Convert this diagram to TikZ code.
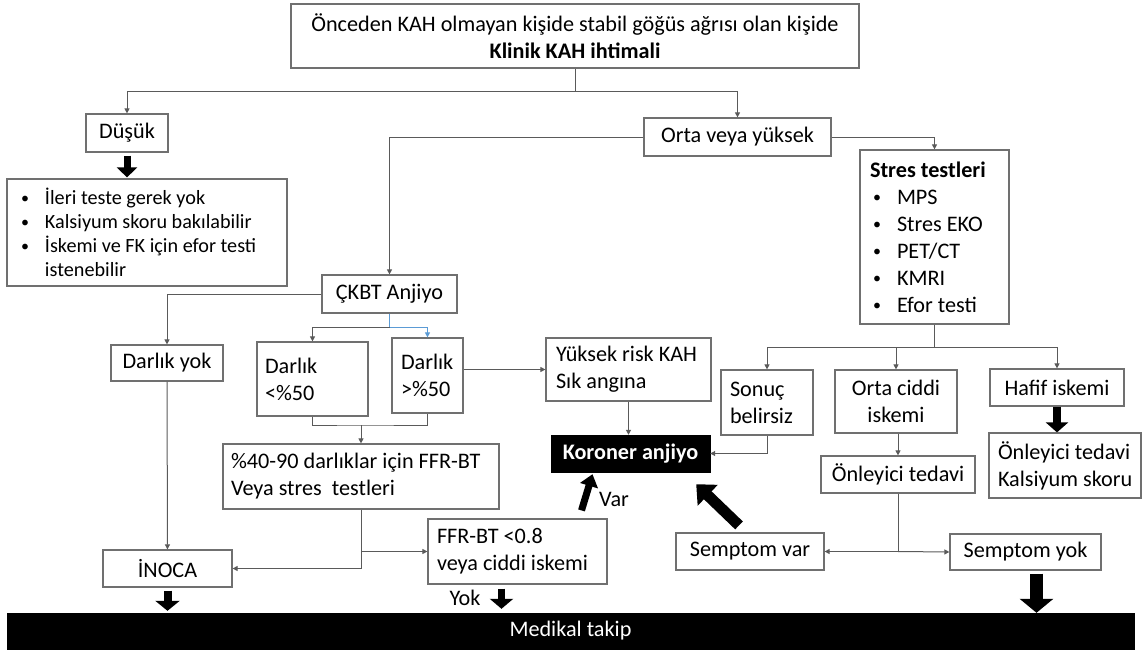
\documentclass[tikz,border=0pt]{standalone}
\usepackage{fontspec}
\setmainfont{Carlito}
\usetikzlibrary{arrows.meta,calc,positioning}
\definecolor{linegray}{HTML}{5A5A5A}
\definecolor{boxgray}{HTML}{707070}
\definecolor{linkblue}{HTML}{5B9BD5}
\newcommand{\itm}[1]{\makebox[24pt][l]{\raisebox{1.5pt}{\fontsize{16}{16}\selectfont\textbullet}}#1}
\tikzset{
  box/.style={draw=boxgray,line width=1.2pt,fill=white,rectangle,inner sep=0pt,align=flush center,text=black},
  lbox/.style={box,align=flush left},
  darkbox/.style={draw=black,fill=black,rectangle,inner sep=0pt,text=white},
  link/.style={draw=linegray,line width=1pt},
  conn/.style={link,-{Triangle[length=5pt,width=5pt]}},
  bigarrow/.style={draw=black,line width=7pt,-{Triangle[length=10pt,width=20pt]}}
}
\begin{document}
\begin{tikzpicture}[x=1pt,y=-1pt,font=\fontsize{22.2}{27}\selectfont]
  \useasboundingbox (0,0) rectangle (1144,653);
  \node[box,minimum width=568pt,minimum height=64pt] (kah) at (575,36)
    {Önceden KAH olmayan kişide stabil göğüs ağrısı olan kişide\\\textbf{Klinik KAH ihtimali}};
  \node[box,minimum width=82pt,minimum height=38pt] (dusuk) at (127,133) {Düşük};
  \node[lbox,inner xsep=14pt,text width=252pt,minimum height=107pt,
    font=\fontsize{20.2}{24}\selectfont] (ileri) at (147,232.5)
    {\itm{İleri teste gerek yok}\\\itm{Kalsiyum skoru bakılabilir}\\
     \itm{İskemi ve FK için efor testi}\\\hspace*{24pt}istenebilir};
  \node[box,minimum width=187pt,minimum height=38pt] (orta) at (737.5,137) {Orta veya yüksek};
  \node[lbox,inner xsep=10pt,text width=129pt,minimum height=174pt] (stres) at (934.5,237)
    {\textbf{Stres testleri}\\\hspace*{3pt}\itm{MPS}\\\hspace*{3pt}\itm{Stres EKO}\\
     \hspace*{3pt}\itm{PET/CT}\\\hspace*{3pt}\itm{KMRI}\\\hspace*{3pt}\itm{Efor testi}};
  \node[box,minimum width=135pt,minimum height=38pt] (ckbt) at (389.5,294) {ÇKBT Anjiyo};
  \node[box,minimum width=112pt,minimum height=36pt] (darlikyok) at (167,363) {Darlık yok};
  \node[lbox,inner xsep=8pt,text width=95pt,minimum height=74pt] (dar1) at (312.5,379) {Darlık\\<\%50};
  \node[lbox,inner xsep=9pt,text width=53pt,minimum height=75pt] (dar2) at (427.5,375.5) {Darlık\\>\%50};
  \node[lbox,inner xsep=10pt,text width=145pt,minimum height=63pt] (yuksek) at (628.5,369.5)
    {\mbox{Yüksek risk KAH}\\Sık angına};
  \node[lbox,inner xsep=8pt,text width=260pt,minimum height=65pt] (ffr) at (361,476.5)
    {\%40-90 darlıklar için FFR-BT\\Veya stres\ \ testleri};
  \node[box,minimum width=129pt,minimum height=37pt] (inoca) at (167.5,568.5) {İNOCA};
  \node[lbox,inner xsep=9pt,text width=161pt,minimum height=65pt] (ffrsonuc) at (517.5,551.5)
    {FFR-BT <0.8\\\mbox{veya ciddi iskemi}};
  \node[darkbox,minimum width=159pt,minimum height=37pt,font=\fontsize{22.2}{27}\selectfont\bfseries]
    (koroner) at (630.5,453.5) {Koroner anjiyo};
  \node[lbox,inner xsep=9pt,text width=74pt,minimum height=65pt] (sonuc) at (767,402.5) {Sonuç\\belirsiz};
  \node[box,minimum width=122pt,minimum height=63pt] (orta2) at (896,401.5) {Orta ciddi\\iskemi};
  \node[box,minimum width=154pt,minimum height=37pt] (onleyici) at (898,474.5) {Önleyici tedavi};
  \node[box,minimum width=134pt,minimum height=37pt] (hafif) at (1057,387.5) {Hafif iskemi};
  \node[lbox,inner xsep=9pt,text width=134pt,minimum height=65pt] (onleyici2) at (1065,465.5)
    {\mbox{Önleyici tedavi}\\\mbox{Kalsiyum skoru}};
  \node[box,minimum width=148pt,minimum height=37pt] (semvar) at (750,551.5) {Semptom var};
  \node[box,minimum width=151pt,minimum height=36pt] (semyok) at (1025.5,552) {Semptom yok};
  \node[darkbox,minimum width=1127pt,minimum height=36pt] (takip) at (570.5,631) {Medikal takip};
  \node (yok) at (465,598) {Yok};
  \node (var) at (614,499) {Var};

  \coordinate (ksplit) at (575,91);
  \coordinate (csplit) at (389.5,327);
  \coordinate (dsplit) at (361,425);
  \coordinate (ssplit) at (934.5,347);
  \draw[link] (kah.south) -- (ksplit);
  \draw[conn] (ksplit) -| (dusuk.north);
  \draw[conn] (ksplit) -| (orta.north);
  \draw[conn] (orta.west) -| (ckbt.north);
  \draw[conn] (orta.east) -| (stres.north);
  \draw[conn] (ckbt.west) -| (darlikyok.north);
  \draw[conn] (darlikyok) -- (inoca);
  \draw[link,draw=linkblue] (ckbt.south) -- (csplit);
  \draw[conn] (csplit) -| (dar1.north);
  \draw[conn,draw=linkblue] (csplit) -| (dar2.north);
  \draw[link] (dar1.south) |- (dsplit) -| (dar2.south);
  \draw[conn] (dsplit) -- (ffr.north);
  \draw[conn] (dar2.east |- yuksek.west) -- (yuksek.west);
  \draw[conn] (ffr.south) |- (inoca.east);
  \draw[conn] (ffr.south |- ffrsonuc.west) -- (ffrsonuc.west);
  \draw[conn] (yuksek.south) -- (yuksek.south |- koroner.north);
  \draw[conn] (sonuc.south) |- (koroner.east);
  \draw[link,line width=1.8pt] (stres.south) -- (ssplit);
  \draw[conn] (ssplit) -| (sonuc.north);
  \draw[conn] (ssplit) -| (orta2.north);
  \draw[conn] (ssplit) -| (hafif.north);
  \draw[conn] (onleyici.north |- orta2.south) -- (onleyici.north);
  \draw[link] (onleyici.south) -- (onleyici.south |- semvar.east) coordinate (osplit);
  \draw[conn] (osplit) -- (semvar.east);
  \draw[conn] (osplit) -- (semyok.west);

  \coordinate (yokarrow) at ([xshift=-16pt]ffrsonuc.south);
  \coordinate (yokarrow2) at ([xshift=11pt]semyok.south);
  \draw[bigarrow,shorten <=3pt,shorten >=1pt] (dusuk.south) -- (dusuk.south |- ileri.north);
  \draw[bigarrow,line width=8pt,-{Triangle[length=10pt,width=24pt]},shorten <=3pt,shorten >=2pt]
    (inoca.south) -- (inoca.south |- takip.north);
  \draw[bigarrow,-{Triangle[length=10pt,width=23pt]},shorten <=4pt,shorten >=4pt]
    (yokarrow) -- (yokarrow |- takip.north);
  \draw[bigarrow,line width=8pt,-{Triangle[length=10pt,width=22pt]},shorten >=0pt]
    (hafif.south) -- (hafif.south |- onleyici2.north);
  \draw[bigarrow,line width=13pt,-{Triangle[length=14pt,width=33pt]},shorten <=3pt]
    (yokarrow2) -- (yokarrow2 |- takip.north);
  \draw[bigarrow,-{Triangle[length=12pt,width=18pt]}]
    ([shift={(64pt,8pt)}]ffrsonuc.north) -- ([xshift=-38pt,yshift=-2pt]koroner.south);
  \draw[bigarrow,line width=11pt,-{Triangle[length=16pt,width=28pt]}]
    ([shift={(-11pt,7pt)}]semvar.north) -- ([shift={(-14pt,-12pt)}]koroner.south east);
\end{tikzpicture}
\end{document}
